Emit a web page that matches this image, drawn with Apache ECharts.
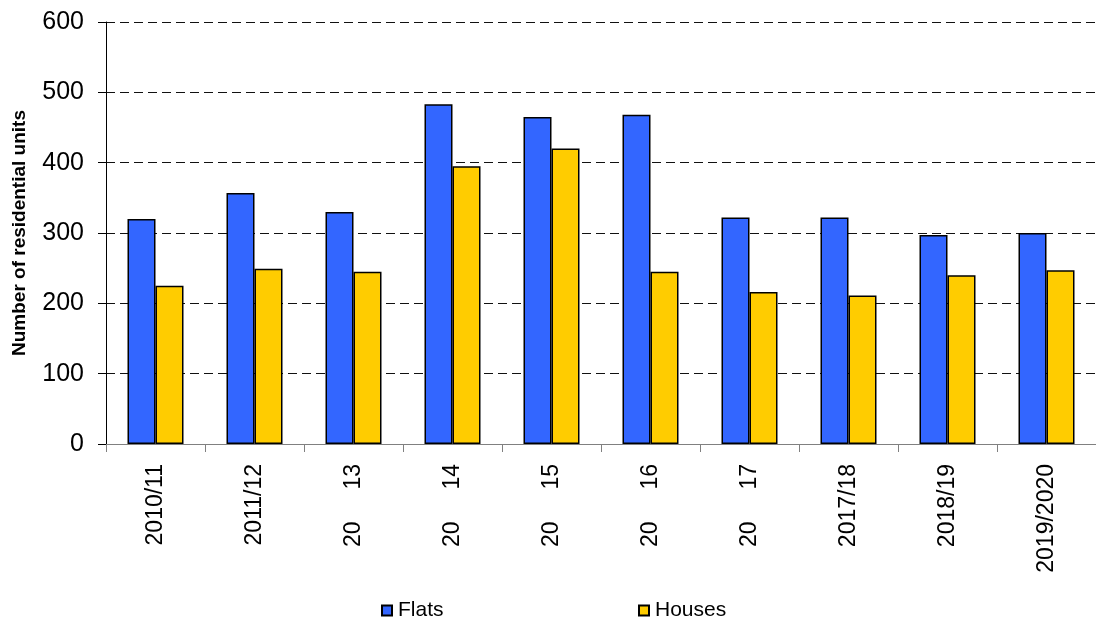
<!DOCTYPE html>
<html lang="en">
<head>
    <meta charset="UTF-8">
    <script src="https://cdn.jsdelivr.net/npm/echarts@6/dist/echarts.min.js"></script>
    <title>Residential units</title>
    <style>
        html, body { margin: 0; padding: 0; background: #fff; }
    </style>
</head>
<body>
<div id="main" style="width: 1096px;height:619px;"></div>
<script type="text/javascript">
    // categories as printed under the axis
    var years = ['2010/11', '2011/12', '20     13', '20     14', '20     15',
                 '20     16', '20     17', '2017/18', '2018/19', '2019/2020'];
    var flats = [320, 357, 330, 483, 465, 468, 322, 322, 297, 300];
    var houses = [225, 249, 245, 395, 420, 245, 216, 211, 240, 247];
    var yTicks = [0, 100, 200, 300, 400, 500, 600];

    var myChart = echarts.init(document.getElementById('main'));

    var font = 'Liberation Sans, Arial, sans-serif';

    var option = {
        animation: false,
        backgroundColor: '#fff',
        grid: {
            left: 106,
            right: -4,
            top: 22,
            bottom: 175
        },
        legend: [{
            data: ['Flats'],
            left: 381,
            top: 600,
            padding: 0,
            icon: 'rect',
            itemWidth: 10,
            itemHeight: 10,
            textStyle: { fontFamily: font, fontSize: 21, color: '#000', padding: [0, 0, 0, 1] }
        }, {
            data: ['Houses'],
            left: 638,
            top: 600,
            padding: 0,
            icon: 'rect',
            itemWidth: 10,
            itemHeight: 10,
            textStyle: { fontFamily: font, fontSize: 21, color: '#000', padding: [0, 0, 0, 1] }
        }],
        xAxis: {
            type: 'category',
            data: years,
            axisLine: { lineStyle: { color: '#808080', width: 1 } },
            axisTick: { show: true, length: 8, lineStyle: { color: '#808080' } },
            axisLabel: {
                rotate: 90,
                margin: 20,
                interval: 0,
                fontFamily: font,
                fontSize: 23,
                color: '#000'
            }
        },
        yAxis: {
            type: 'value',
            min: yTicks[0],
            max: yTicks[yTicks.length - 1],
            interval: 100,
            name: 'Number of residential units',
            nameLocation: 'middle',
            nameGap: 77,
            nameTextStyle: {
                fontFamily: font,
                fontSize: 19,
                fontWeight: 'bold',
                color: '#000'
            },
            axisLine: { show: true, lineStyle: { color: '#000', width: 1 } },
            axisTick: { show: true, length: 8, lineStyle: { color: '#000' } },
            axisLabel: {
                margin: 22,
                fontFamily: font,
                fontSize: 25,
                color: '#000'
            },
            splitLine: {
                show: true,
                lineStyle: { color: '#111', width: 1, type: [9, 5] }
            }
        },
        series: [{
            name: 'Flats',
            type: 'bar',
            data: flats,
            barWidth: 28,
            barGap: '0%',
            itemStyle: { color: '#3366FF', borderColor: '#000', borderWidth: 1.5 }
        }, {
            name: 'Houses',
            type: 'bar',
            data: houses,
            barWidth: 28,
            barGap: '0%',
            itemStyle: { color: '#FFCC00', borderColor: '#000', borderWidth: 1.5 }
        }]
    };

    myChart.setOption(option);
</script>
</body>
</html>
